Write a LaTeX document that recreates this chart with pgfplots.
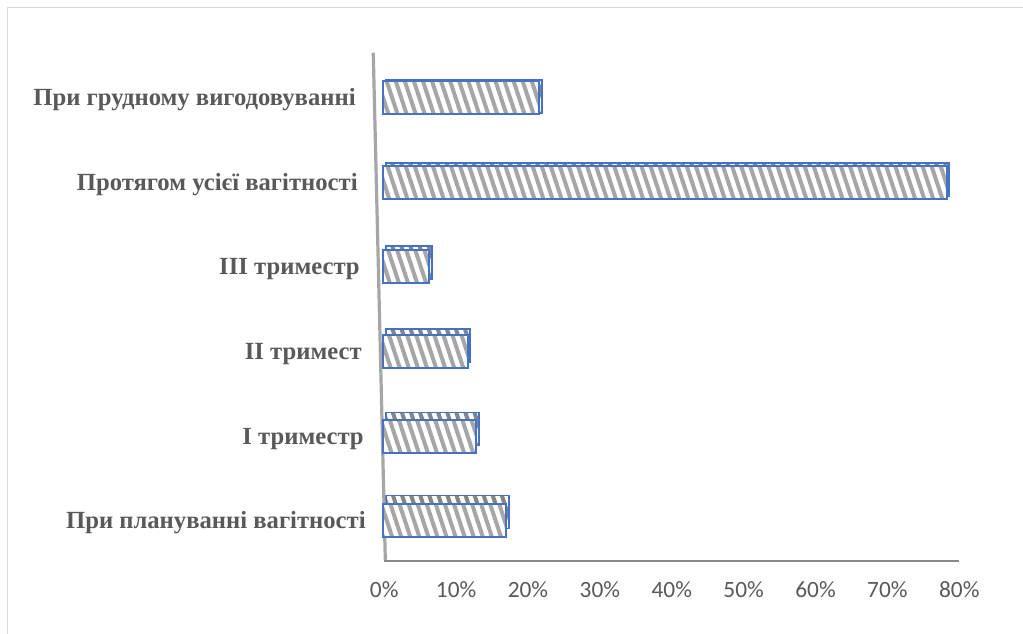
\documentclass[border=0pt]{standalone}
\usepackage{pgfplots}
\pgfplotsset{compat=1.18}
\usepackage{pgfplotstable}
\usepackage{fontspec}
\setmainfont{Liberation Serif}
\newfontfamily\calibri{Carlito}
\definecolor{barblue}{HTML}{4472C4}
\definecolor{stripegray}{HTML}{A6A6A6}
\definecolor{darkstripe}{HTML}{858585}
\definecolor{labelgray}{HTML}{595959}
\definecolor{axisgray}{HTML}{888888}
\definecolor{wallgray}{HTML}{A6A6A6}
\definecolor{framegray}{HTML}{D9D9D9}

\tikzset{stripes/.style={path picture={
  \foreach \k in {0,...,95}{
    \draw[path picture={}, fill=none, draw=#1, line width=3pt] ([xshift=\k*6.8pt]path picture bounding box.south west) -- ++(-150pt,454pt);
  }}}}

\pgfplotstableread{
y val
0 17.1
1 13.2
2 12.3
3 7.2
4 79.5
5 23.1
}\datatable

\begin{document}
\begin{tikzpicture}
\path[use as bounding box] (0,0) rectangle (767.25pt,475.5pt);
\draw[framegray, line width=0.75pt] (5.25pt,0) -- (5.25pt,469.5pt) -- (767.25pt,469.5pt);

% back copy (depth faces)
\begin{axis}[
  anchor=origin, at={(289.35pt,91.5pt)},
  x={(5.390625pt,0pt)}, y={(-1.478pt,62.325pt)},
  xmin=0, xmax=80, ymin=-0.472, ymax=5.514,
  hide axis, clip=false,
  xbar, bar width=24.75pt,
]
\addplot[draw=barblue, line width=1.3pt, fill=white, stripes=darkstripe] table[x=val, y=y] {\datatable};
\end{axis}

% front bars and axes
\begin{axis}[
  anchor=origin, at={(287.475pt,84.75pt)},
  x={(5.390625pt,0pt)}, y={(-1.507pt,63.525pt)},
  xmin=0, xmax=80, ymin=-0.472, ymax=5.514,
  clip=false,
  xbar, bar width=24.75pt,
  axis x line*=bottom, axis y line*=left,
  x axis line style={draw=axisgray, line width=1.5pt, -},
  y axis line style={draw=none},
  major tick length=0pt,
  xtick={0,10,...,80},
  xticklabels={0\%,10\%,20\%,30\%,40\%,50\%,60\%,70\%,80\%},
  xticklabel style={font=\calibri\fontsize{17.5}{20}\selectfont, text=labelgray, anchor=base, yshift=-27.75pt},
  ytick={0,1,2,3,4,5},
  yticklabels={При плануванні вагітності, I триместр, II тримест, III триместр, Протягом усієї вагітності, При грудному вигодовуванні},
  yticklabel style={font=\bfseries\fontsize{18.5}{22}\selectfont, text=labelgray, anchor=base east, inner xsep=0pt, xshift=-13pt, yshift=-6pt},
]
\draw[wallgray, line width=2.4pt] (axis cs:0.15,-0.46) -- (axis cs:0.15,5.53);
\addplot[draw=barblue, line width=1.5pt, fill=white, stripes=stripegray] table[x=val, y=y] {\datatable};
\end{axis}
\end{tikzpicture}
\end{document}
